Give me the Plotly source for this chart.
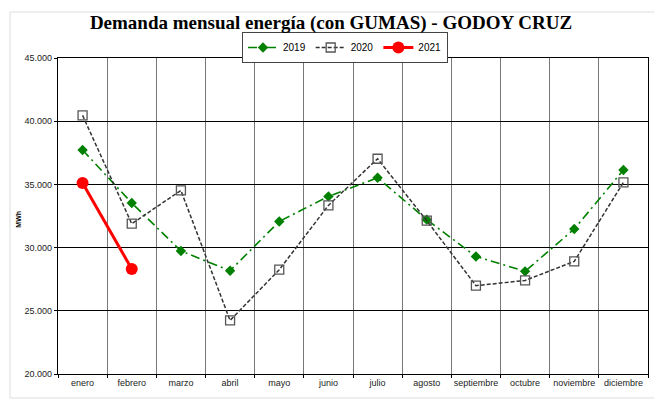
import plotly.graph_objects as go

months = ["enero", "febrero", "marzo", "abril", "mayo", "junio", "julio",
          "agosto", "septiembre", "octubre", "noviembre", "diciembre"]
v2019 = [37720, 33530, 29730, 28170, 32070, 34050, 35530, 32210, 29300, 28120, 31470, 36140]
v2020 = [40460, 31890, 34520, 24240, 28250, 33340, 37030, 32130, 26990, 27400, 28910, 35160]
v2021 = [35110, 28310]
months_2021 = months[:len(v2021)]
y_ticks = [20000, 25000, 30000, 35000, 40000, 45000]

# page body has an 8px default margin, so the figure is drawn 8px smaller
W, H = 654, 395
OFF = 8

fig = go.Figure()
fig.add_trace(go.Scatter(
    x=months, y=v2019, name="2019", mode="lines+markers",
    line=dict(color="#008000", width=1.6, dash="9px,4px,2px,4px"),
    marker=dict(symbol="diamond", size=8, color="#008000"),
))
fig.add_trace(go.Scatter(
    x=months, y=v2020, name="2020", mode="lines+markers",
    line=dict(color="#333333", width=1.5, dash="4px,2px"),
    marker=dict(symbol="square-open", size=9, color="#555555", line=dict(width=1.3)),
))
fig.add_trace(go.Scatter(
    x=months_2021, y=v2021, name="2021", mode="lines+markers",
    line=dict(color="#ff0000", width=3),
    marker=dict(symbol="circle", size=12, color="#ff0000"),
))

fig.update_layout(
    width=W, height=H,
    margin=dict(l=58 - OFF, r=14, t=58 - OFF, b=29, autoexpand=False),
    paper_bgcolor="white", plot_bgcolor="white",
    separators=",.",
    font=dict(family="Liberation Sans, Arial", size=9, color="#222222"),
    title=dict(text="<b>Demanda mensual energía (con GUMAS) - GODOY CRUZ</b>",
               x=(331 - OFF) / W, xanchor="center", y=1 - (22 - OFF) / H, yanchor="middle",
               yref="container",
               font=dict(family="Liberation Serif, serif", size=19, color="black")),
    showlegend=True,
    legend=dict(orientation="h", xref="container", yref="container",
                x=(242 - OFF) / W, xanchor="left", y=1 - (32 - OFF) / H, yanchor="top",
                bordercolor="#444444", borderwidth=1, bgcolor="white",
                font=dict(family="Liberation Sans, Arial", size=10, color="black"),
                itemwidth=30, tracegroupgap=0),
    xaxis=dict(type="category", categoryorder="array", categoryarray=months,
               tickson="boundaries", showgrid=True, gridcolor="#777777", gridwidth=1,
               showline=True, linecolor="black", linewidth=1.2, mirror=True,
               ticks="outside", ticklen=3, tickcolor="black", tickangle=0,
               automargin=False,
               tickfont=dict(size=9, color="#222222"), range=[-0.5, 11.5]),
    yaxis=dict(range=[20000, 45000], tickvals=y_ticks, tickformat=",d",
               showgrid=True, gridcolor="black", gridwidth=1,
               showline=True, linecolor="black", linewidth=1.2, mirror=True,
               ticks="outside", ticklen=3, tickcolor="black", zeroline=False,
               automargin=False,
               tickfont=dict(size=9, color="#222222")),
    annotations=[dict(text="<b>MWh</b>", textangle=-90, xref="paper", yref="paper",
                      x=(13 - 58) / 590, y=0.49, showarrow=False,
                      font=dict(size=7, color="black"))],
    shapes=[dict(type="rect", xref="paper", yref="paper",
                 x0=(10 - 58) / 590, x1=(657 - 58) / 590,
                 y0=(374 - 398) / 316, y1=(374 - 12) / 316,
                 line=dict(color="#dddddd", width=1), layer="below")],
)

fig.write_html("out.html")
